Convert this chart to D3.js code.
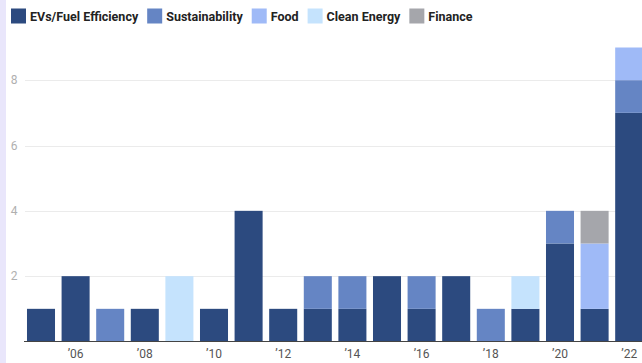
<!DOCTYPE html>
<html><head><meta charset="utf-8">
<script src="https://cdn.jsdelivr.net/npm/d3@7"></script>
<style>
html,body{margin:0;padding:0;background:#fff;overflow:hidden}
svg{display:block}
</style></head>
<body>
<script>
const years = ["2005","2006","2007","2008","2009","2010","2011","2012","2013","2014","2015","2016","2017","2018","2019","2020","2021","2022"];
const seriesNames = ["EVs/Fuel Efficiency","Sustainability","Food","Clean Energy","Finance"];
const evs         = [1,2,0,1,0,1,4,1,1,1,2,1,2,0,1,3,1,7];
const sustain     = [0,0,1,0,0,0,0,0,1,1,0,1,0,1,0,1,0,1];
const food        = [0,0,0,0,0,0,0,0,0,0,0,0,0,0,0,0,2,1];
const cleanEnergy = [0,0,0,0,2,0,0,0,0,0,0,0,0,0,1,0,0,0];
const finance     = [0,0,0,0,0,0,0,0,0,0,0,0,0,0,0,0,1,0];
const yTicks = [2,4,6,8];
const colors = ["#2c4a7f","#6585c4","#9fbaf7","#c5e3fd","#a5a6ab"];

const W = 642, H = 363;
const svg = d3.select("body").append("svg").attr("width", W).attr("height", H);
svg.append("rect").attr("x",0).attr("y",0).attr("width",6).attr("height",H).attr("fill","#e9e6fb");

const table = years.map((y,i)=>({year:y, "EVs/Fuel Efficiency":evs[i], "Sustainability":sustain[i], "Food":food[i], "Clean Energy":cleanEnergy[i], "Finance":finance[i]}));
const stack = d3.stack().keys(seriesNames)(table);

const x = d3.scaleBand().domain(years).range([23.7, 646.5]).paddingInner(0.19).paddingOuter(0.095);
const y = d3.scaleLinear().domain([0, 9]).range([341.5, 47.5]);

// gridlines
svg.append("g").selectAll("line").data(yTicks).join("line")
  .attr("x1", 25).attr("x2", W).attr("y1", d=>Math.round(y(d))+0.5).attr("y2", d=>Math.round(y(d))+0.5)
  .attr("stroke", "#ebebeb").attr("stroke-width", 1);
svg.append("g").selectAll("text").data(yTicks).join("text")
  .attr("x", 14).attr("y", d=>y(d)+4).attr("text-anchor","middle")
  .attr("font-family","Roboto").attr("font-size", 12).attr("fill","#b0b0b0").text(d=>d);

// bars
svg.append("g").selectAll("g").data(stack).join("g")
  .attr("fill", (d,i)=>colors[i])
  .selectAll("rect").data(d=>d.filter(v=>v[1]-v[0]>0)).join("rect")
  .attr("x", d=>x(d.data.year)).attr("width", x.bandwidth())
  .attr("y", d=>y(d[1])).attr("height", d=>y(d[0])-y(d[1]));

// x axis
const xAxis = d3.axisBottom(x).tickSize(0).tickPadding(8)
  .tickValues(years.filter(d=>+d%2===0)).tickFormat(d=>"\u2019"+d.slice(2));
const ax = svg.append("g").attr("transform", "translate(0,341.5)").call(xAxis);
ax.select(".domain").remove();
ax.selectAll("text").attr("font-family","Roboto").attr("font-size",12).attr("fill","#555");
svg.append("line").attr("x1",24).attr("x2",W).attr("y1",341.5).attr("y2",341.5).attr("stroke","#444").attr("stroke-width",1);

// legend
const leg = svg.append("g");
let lx = 11;
seriesNames.forEach((n,i)=>{
  leg.append("rect").attr("x", lx).attr("y", 8.5).attr("width", 15).attr("height", 15).attr("fill", colors[i]);
  const t = leg.append("text").attr("x", lx+19).attr("y", 20.5)
    .attr("font-family","Roboto").attr("font-weight",700).attr("font-size",12.5).attr("fill","#222").text(n);
  lx += 19 + t.node().getComputedTextLength() + 9;
});
</script>
</body></html>
